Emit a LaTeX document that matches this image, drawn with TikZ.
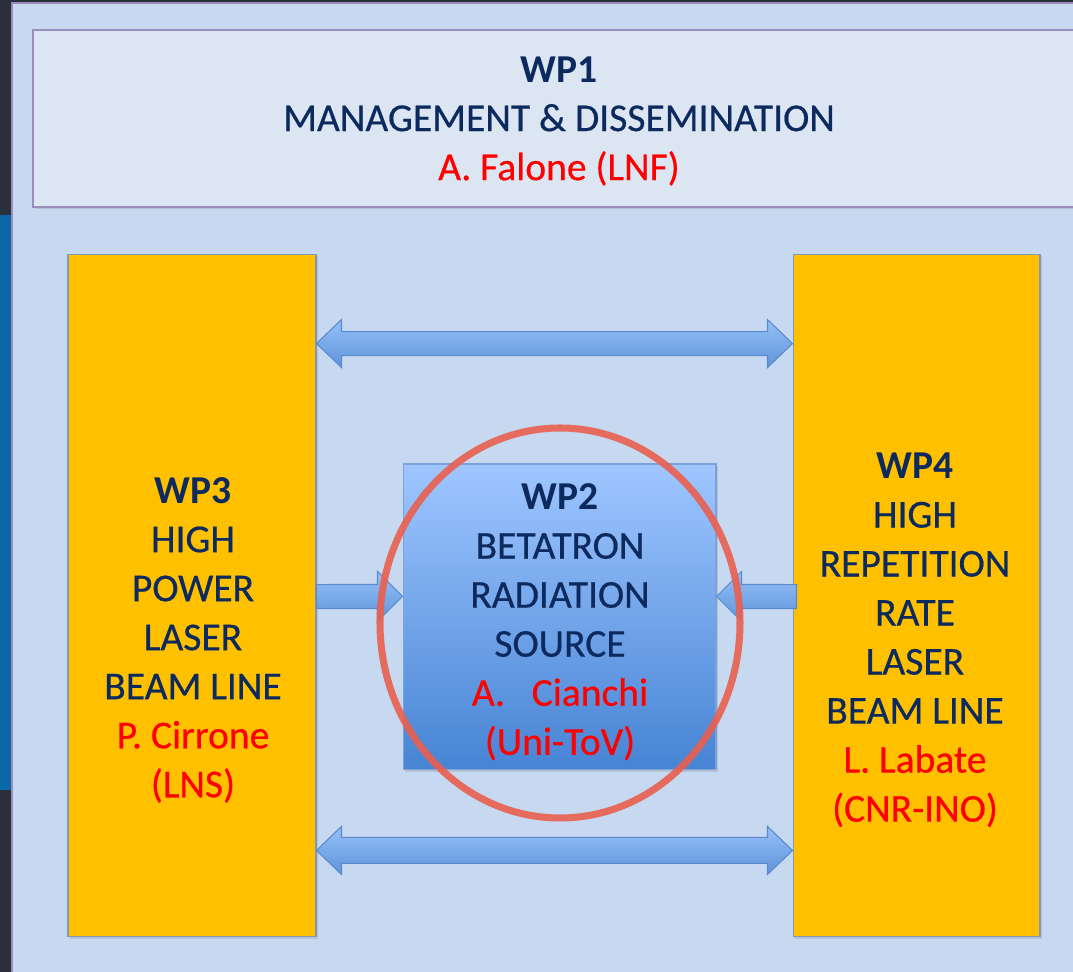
\documentclass[tikz,border=0pt]{standalone}
\usepackage{fontspec}
\setmainfont{Carlito}[UprightFeatures={FakeBold=0.5}]
\usetikzlibrary{calc,shadows}

\definecolor{navy}{HTML}{0D2A5E}
\definecolor{panel}{HTML}{C6D9F0}
\definecolor{wpone}{HTML}{DCE6F2}
\definecolor{lilac}{HTML}{9A8DBE}
\definecolor{amber}{HTML}{FFC000}
\definecolor{boxedge}{HTML}{8199B5}
\definecolor{arrowtop}{HTML}{96C0F8}
\definecolor{arrowbot}{HTML}{5E94DA}
\definecolor{arrowedge}{HTML}{5A89CC}
\definecolor{sourcetop}{HTML}{9FC6FF}
\definecolor{sourcebot}{HTML}{4684D4}
\definecolor{ringred}{HTML}{E9604F}
\definecolor{night}{HTML}{2B2E3B}
\definecolor{sea}{HTML}{0B68A8}

\begin{document}
\begin{tikzpicture}[x=0.02cm, y=-0.02cm,
    box/.style={draw=boxedge, line width=0.6pt, inner sep=0pt,
      drop shadow={opacity=0.25, shadow xshift=1pt, shadow yshift=-1pt}},
    wptext/.style={align=center, text=navy, font=\fontsize{22.5}{27.9}\selectfont},
    fat/.style={top color=arrowtop, bottom color=arrowbot, draw=arrowedge, line width=0.6pt},
    ring/.style={draw=ringred, line width=4pt, opacity=0.9}]

    % Frame
    \clip (0,0) rectangle (1073,972);
    \fill[night] (0,0) rectangle (1073,972);
    \fill[sea] (0,215) rectangle (12,790);
    \draw[fill=panel, draw=lilac, line width=1pt] (12,3) rectangle (1090,990);

    % Work packages
    \node[box, fill=wpone, draw=lilac, line width=1.2pt,
      minimum width=21.04cm, minimum height=3.54cm] (wp1) at (559,118.5) {};
    \node[box, fill=amber, minimum width=4.96cm, minimum height=13.66cm] (wp3) at (192,595.5) {};
    \node[box, fill=amber, minimum width=4.94cm, minimum height=13.66cm] (wp4) at (916.5,595.5) {};

    % Links between WP3 and WP4
    \path[fat] ($(wp3.north east)+(0,90)$) -- ++(25,-24) -- ++(0,12)
      -- ($(wp4.north west)+(-25,78)$) -- ++(0,-12) -- ($(wp4.north west)+(0,90)$)
      -- ++(-25,24) -- ++(0,-12) -- ($(wp3.north east)+(25,102)$) -- ++(0,12) -- cycle;
    \path[fat] ($(wp3.south east)+(0,-87)$) -- ++(25,-24) -- ++(0,11)
      -- ($(wp4.south west)+(-25,-100)$) -- ++(0,-11) -- ($(wp4.south west)+(0,-87)$)
      -- ++(-25,24) -- ++(0,-11) -- ($(wp3.south east)+(25,-74)$) -- ++(0,11) -- cycle;

    % Links into WP2
    \node[box, top color=sourcetop, bottom color=sourcebot,
      draw=arrowedge!80, minimum width=6.26cm, minimum height=6.12cm] (wp2) at (559.5,617) {};
    \path[fat] ($(wp3.north east)+(0,331)$) -- ($(wp2.north west)+(-25,121)$) -- ++(0,-13)
      -- ($(wp2.north west)+(0,133)$) -- ++(-25,25) -- ++(0,-13)
      -- ($(wp3.north east)+(0,355)$) -- cycle;
    \path[fat] ($(wp4.north west)+(4,331)$) -- ($(wp2.north east)+(25,121)$) -- ++(0,-13)
      -- ($(wp2.north east)+(0,133)$) -- ++(25,25) -- ++(0,-13)
      -- ($(wp4.north west)+(4,355)$) -- cycle;

    % Texts
    \node[wptext] (wp1txt) at (559,121)
      {\textbf{WP1}\\MANAGEMENT \& DISSEMINATION\\\textcolor{red}{A. Falone (LNF)}};
    \node[wptext] (wp3txt) at (193,640)
      {\textbf{WP3}\\HIGH\\POWER\\LASER\\BEAM LINE\\\textcolor{red}{P. Cirrone}\\\textcolor{red}{(LNS)}};
    \node[wptext] (wp2txt) at (560,622)
      {\textbf{WP2}\\BETATRON\\RADIATION\\SOURCE\\\textcolor{red}{A.\ \ \ Cianchi}\\\textcolor{red}{(Uni-ToV)}};
    \node[wptext] (wp4txt) at (915,640)
      {\textbf{WP4}\\HIGH\\REPETITION\\RATE\\LASER\\BEAM LINE\\\textcolor{red}{L. Labate}\\\textcolor{red}{(CNR-INO)}};

    % Highlight
    \draw[ring] (560,623) ellipse [x radius=180, y radius=195];

\end{tikzpicture}
\end{document}
